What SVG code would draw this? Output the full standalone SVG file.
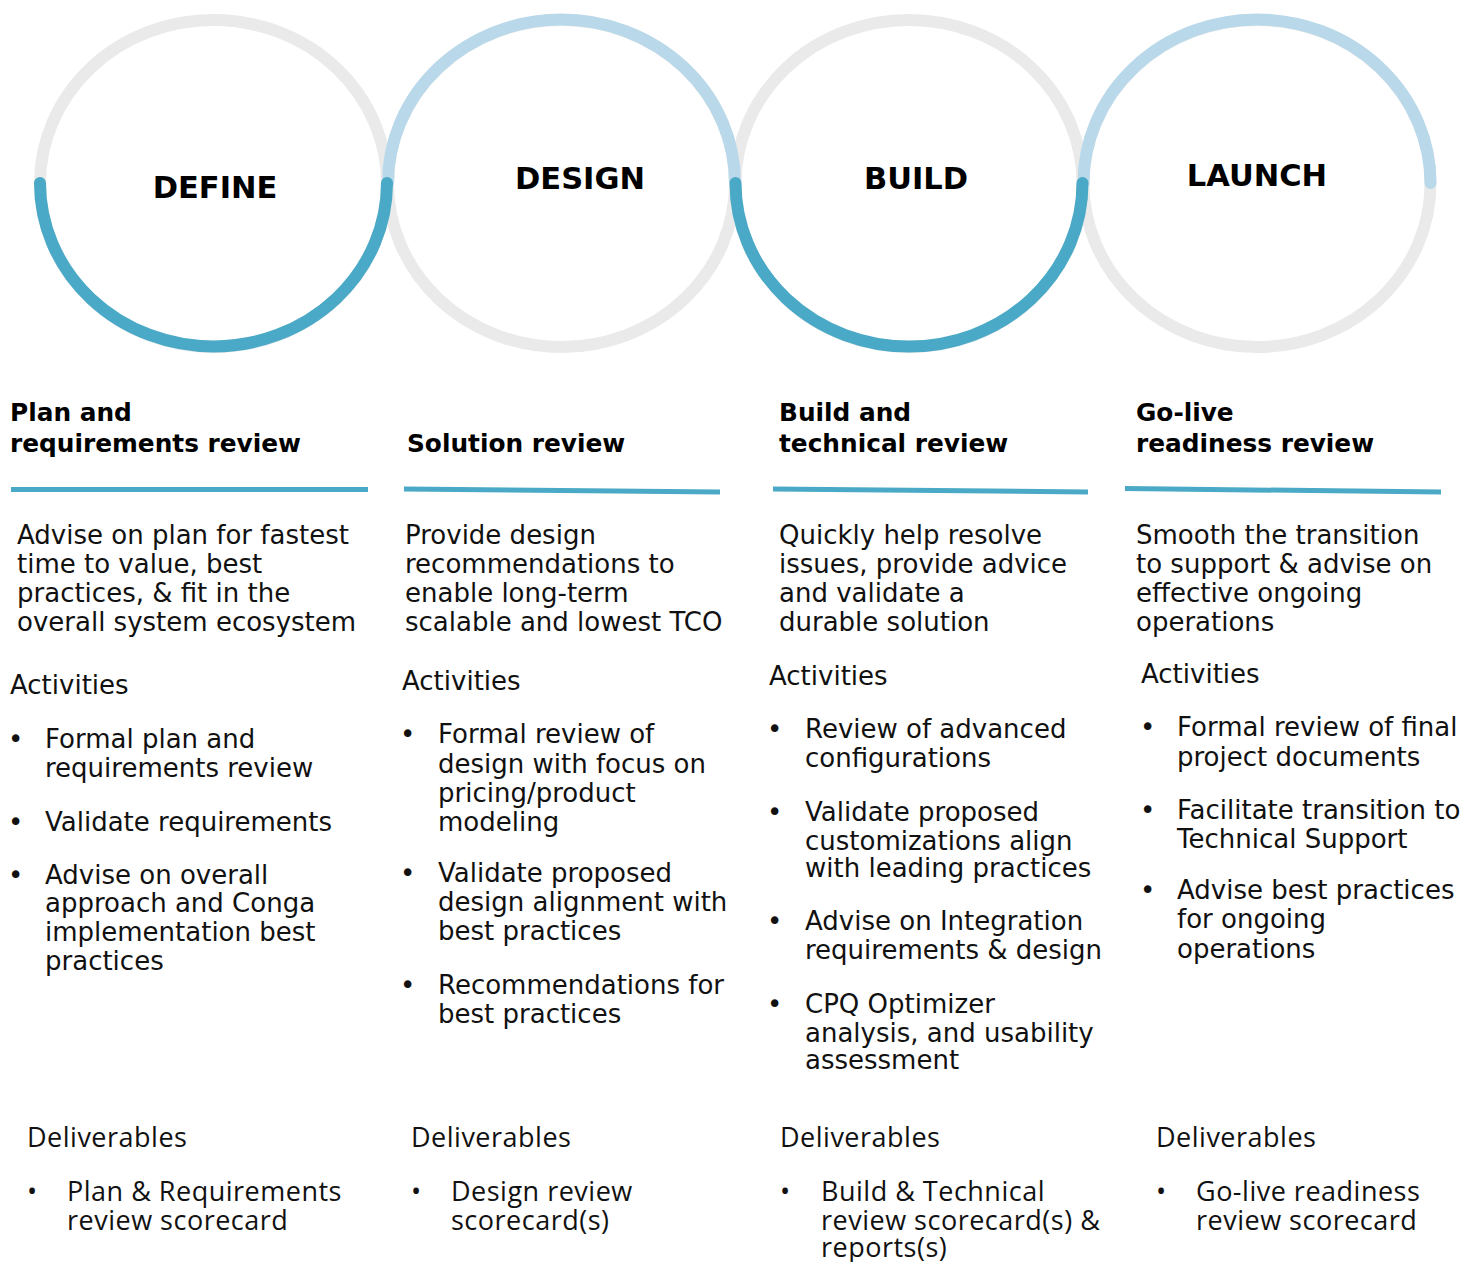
<svg xmlns="http://www.w3.org/2000/svg" width="1470" height="1262" viewBox="0 0 1470 1262">
<style>
.ring{fill:none;stroke:#EAEAEA;stroke-width:12}
.arcD{fill:none;stroke:#49A9C6;stroke-width:12;stroke-linecap:round}
.arcL{fill:none;stroke:#B9D9EA;stroke-width:12;stroke-linecap:round}
.lbl{font-family:"DejaVu Sans","Liberation Sans",sans-serif;font-weight:bold;font-size:30.5px;fill:#000;text-anchor:middle}
.hd{font-family:"DejaVu Sans","Liberation Sans",sans-serif;font-weight:bold;font-size:24.8px;fill:#000}
.tx{font-family:"DejaVu Sans","Liberation Sans",sans-serif;font-size:26px;fill:#111}
.dl{font-family:"Open Sans","Liberation Sans",sans-serif;font-size:27px;letter-spacing:0.5px;fill:#111}
.rule{stroke:#49A9C6;stroke-width:5;fill:none}
</style>
<rect width="1470" height="1262" fill="#fff"/>
<g id="rings">
<ellipse class="ring" cx="213.5" cy="183.5" rx="173.5" ry="163.5"/>
<ellipse class="ring" cx="561.5" cy="183.5" rx="173.5" ry="163.5"/>
<ellipse class="ring" cx="909" cy="183.5" rx="173.5" ry="163.5"/>
<ellipse class="ring" cx="1257" cy="183.5" rx="173.5" ry="163.5"/>
</g>
<g id="connectors">
<path class="arcL" d="M388,183 A173.5,163.5 0 0 1 735,183"/>
<path class="arcL" d="M1083.5,183 A173.5,163.5 0 0 1 1430.5,183"/>
<path class="arcD" d="M40,183 A173.5,163.5 0 0 0 387,183"/>
<path class="arcD" d="M735.5,183 A173.5,163.5 0 0 0 1082.5,183"/>
</g>
<g id="define">
<text class="lbl" x="215" y="198">DEFINE</text>
<text class="hd" x="10" y="421">Plan and</text>
<text class="hd" x="10" y="452">requirements review</text>
<line class="rule" x1="11" y1="489.5" x2="368" y2="489.5"/>
<text class="tx" x="17" y="544">Advise on plan for fastest</text>
<text class="tx" x="17" y="573">time to value, best</text>
<text class="tx" x="17" y="602">practices, &amp; fit in the</text>
<text class="tx" x="17" y="631">overall system ecosystem</text>
<text class="tx" x="10" y="694">Activities</text>
<text class="tx" x="8" y="748">•</text>
<text class="tx" x="45" y="748">Formal plan and</text>
<text class="tx" x="45" y="777">requirements review</text>
<text class="tx" x="8" y="831">•</text>
<text class="tx" x="45" y="831">Validate requirements</text>
<text class="tx" x="8" y="884">•</text>
<text class="tx" x="45" y="884">Advise on overall</text>
<text class="tx" x="45" y="912">approach and Conga</text>
<text class="tx" x="45" y="941">implementation best</text>
<text class="tx" x="45" y="970">practices</text>
<text class="dl" x="27" y="1147">Deliverables</text>
<text class="dl" x="27" y="1201">•</text>
<text class="dl" x="67" y="1201">Plan &amp; Requirements</text>
<text class="dl" x="67" y="1230">review scorecard</text>
</g>
<g id="design">
<text class="lbl" x="580" y="189">DESIGN</text>
<text class="hd" x="407" y="452">Solution review</text>
<line class="rule" x1="404" y1="489" x2="720" y2="492"/>
<text class="tx" x="405" y="544">Provide design</text>
<text class="tx" x="405" y="573">recommendations to</text>
<text class="tx" x="405" y="602">enable long-term</text>
<text class="tx" x="405" y="631">scalable and lowest TCO</text>
<text class="tx" x="402" y="690">Activities</text>
<text class="tx" x="400" y="743">•</text>
<text class="tx" x="438" y="743">Formal review of</text>
<text class="tx" x="438" y="773">design with focus on</text>
<text class="tx" x="438" y="802">pricing/product</text>
<text class="tx" x="438" y="831">modeling</text>
<text class="tx" x="400" y="882">•</text>
<text class="tx" x="438" y="882">Validate proposed</text>
<text class="tx" x="438" y="911">design alignment with</text>
<text class="tx" x="438" y="940">best practices</text>
<text class="tx" x="400" y="994">•</text>
<text class="tx" x="438" y="994">Recommendations for</text>
<text class="tx" x="438" y="1023">best practices</text>
<text class="dl" x="411" y="1147">Deliverables</text>
<text class="dl" x="411" y="1201">•</text>
<text class="dl" x="451" y="1201">Design review</text>
<text class="dl" x="451" y="1230">scorecard(s)</text>
</g>
<g id="build">
<text class="lbl" x="916" y="189">BUILD</text>
<text class="hd" x="779" y="421">Build and</text>
<text class="hd" x="779" y="452">technical review</text>
<line class="rule" x1="773" y1="489" x2="1088" y2="492"/>
<text class="tx" x="779" y="544">Quickly help resolve</text>
<text class="tx" x="779" y="573">issues, provide advice</text>
<text class="tx" x="779" y="602">and validate a</text>
<text class="tx" x="779" y="631">durable solution</text>
<text class="tx" x="769" y="685">Activities</text>
<text class="tx" x="767" y="738">•</text>
<text class="tx" x="805" y="738">Review of advanced</text>
<text class="tx" x="805" y="767">configurations</text>
<text class="tx" x="767" y="821">•</text>
<text class="tx" x="805" y="821">Validate proposed</text>
<text class="tx" x="805" y="850">customizations align</text>
<text class="tx" x="805" y="877">with leading practices</text>
<text class="tx" x="767" y="930">•</text>
<text class="tx" x="805" y="930">Advise on Integration</text>
<text class="tx" x="805" y="959">requirements &amp; design</text>
<text class="tx" x="767" y="1013">•</text>
<text class="tx" x="805" y="1013">CPQ Optimizer</text>
<text class="tx" x="805" y="1042">analysis, and usability</text>
<text class="tx" x="805" y="1069">assessment</text>
<text class="dl" x="780" y="1147">Deliverables</text>
<text class="dl" x="780" y="1201">•</text>
<text class="dl" x="821" y="1201">Build &amp; Technical</text>
<text class="dl" x="821" y="1230">review scorecard(s) &amp;</text>
<text class="dl" x="821" y="1257">reports(s)</text>
</g>
<g id="launch">
<text class="lbl" x="1257" y="186">LAUNCH</text>
<text class="hd" x="1136" y="421">Go-live</text>
<text class="hd" x="1136" y="452">readiness review</text>
<line class="rule" x1="1125" y1="488.5" x2="1441" y2="492"/>
<text class="tx" x="1136" y="544">Smooth the transition</text>
<text class="tx" x="1136" y="573">to support &amp; advise on</text>
<text class="tx" x="1136" y="602">effective ongoing</text>
<text class="tx" x="1136" y="631">operations</text>
<text class="tx" x="1141" y="683">Activities</text>
<text class="tx" x="1140" y="736">•</text>
<text class="tx" x="1177" y="736">Formal review of final</text>
<text class="tx" x="1177" y="766">project documents</text>
<text class="tx" x="1140" y="819">•</text>
<text class="tx" x="1177" y="819">Facilitate transition to</text>
<text class="tx" x="1177" y="848">Technical Support</text>
<text class="tx" x="1140" y="899">•</text>
<text class="tx" x="1177" y="899">Advise best practices</text>
<text class="tx" x="1177" y="928">for ongoing</text>
<text class="tx" x="1177" y="958">operations</text>
<text class="dl" x="1156" y="1147">Deliverables</text>
<text class="dl" x="1156" y="1201">•</text>
<text class="dl" x="1196" y="1201">Go-live readiness</text>
<text class="dl" x="1196" y="1230">review scorecard</text>
</g>
</svg>
